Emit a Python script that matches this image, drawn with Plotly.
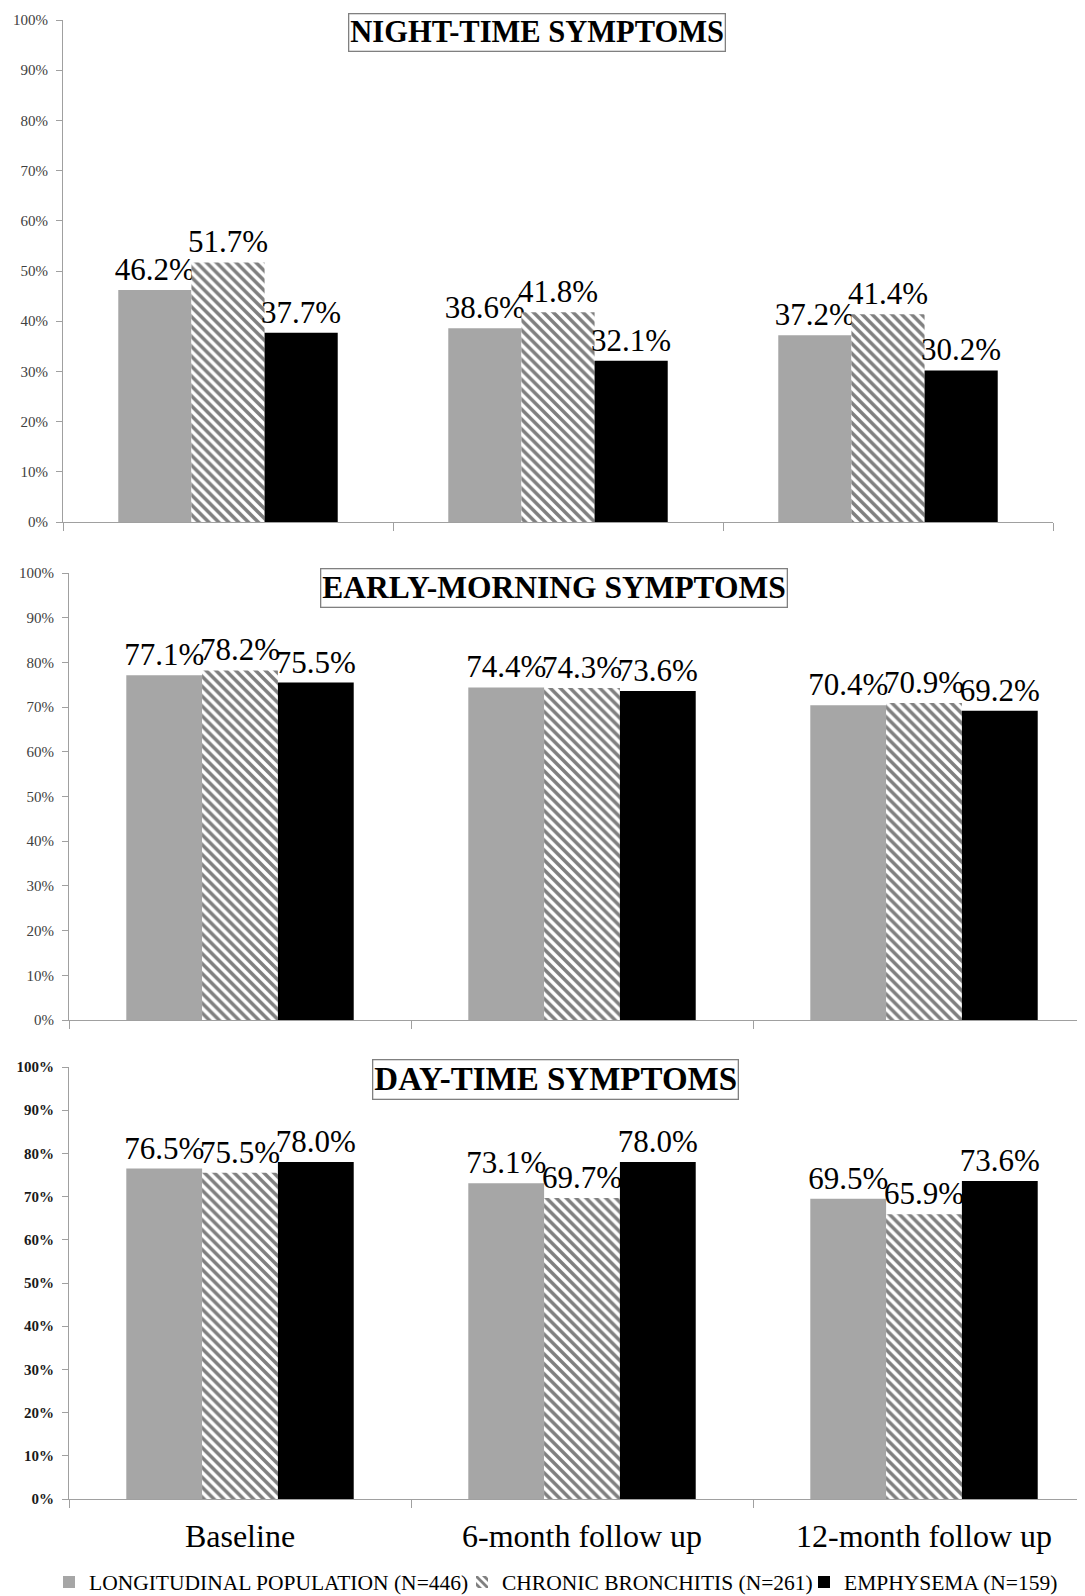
import plotly.graph_objects as go
from plotly.subplots import make_subplots

categories = ["Baseline", "6-month follow up", "12-month follow up"]
series_names = ["LONGITUDINAL POPULATION (N=446)", "CHRONIC BRONCHITIS (N=261)", "EMPHYSEMA (N=159)"]

night_long = [46.2, 38.6, 37.2]
night_cb = [51.7, 41.8, 41.4]
night_emph = [37.7, 32.1, 30.2]

morning_long = [77.1, 74.4, 70.4]
morning_cb = [78.2, 74.3, 70.9]
morning_emph = [75.5, 73.6, 69.2]

day_long = [76.5, 73.1, 69.5]
day_cb = [75.5, 69.7, 65.9]
day_emph = [78.0, 78.0, 73.6]

panel_titles = ["NIGHT-TIME SYMPTOMS", "EARLY-MORNING SYMPTOMS", "DAY-TIME SYMPTOMS"]
y_tick_vals = [0, 10, 20, 30, 40, 50, 60, 70, 80, 90, 100]
y_tick_text = ["0%", "10%", "20%", "30%", "40%", "50%", "60%", "70%", "80%", "90%", "100%"]

panels = [
    (night_long, night_cb, night_emph),
    (morning_long, morning_cb, morning_emph),
    (day_long, day_cb, day_emph),
]

W, H = 1085, 1596
SERIF = "Liberation Serif"

fig = make_subplots(rows=3, cols=1)

styles = [
    dict(color="#a6a6a6", pattern=None),
    dict(color="white", pattern=dict(shape="\\", fgcolor="black", bgcolor="white", size=7, solidity=0.5)),
    dict(color="black", pattern=None),
]
legend_ids = ["legend", "legend2", "legend3"]

for r, vals in enumerate(panels, start=1):
    for i, (v, st) in enumerate(zip(vals, styles)):
        marker = dict(color=st["color"], line=dict(width=0))
        if st["pattern"] is not None:
            marker["pattern"] = st["pattern"]
        fig.add_trace(
            go.Bar(
                x=categories, y=v, name=series_names[i],
                marker=marker,
                text=v, texttemplate="%{y:.1f}%", textposition="outside",
                textfont=dict(family=SERIF, size=31, color="black"),
                constraintext="none", cliponaxis=False,
                showlegend=(r == 1), legendgroup=str(i), legend=legend_ids[i],
            ),
            row=r, col=1,
        )

# pixel-based layout of the three panels (figure pixels)
ydoms = [
    (1 - 514 / H, 1 - 12 / H),
    (1 - 1012 / H, 1 - 565 / H),
    (1 - 1491 / H, 1 - 1059 / H),
]
x1_start, x1_cat = 55, 330.0
x23_start, x23_cat = 61, 342.0
xdoms = [
    (x1_start / W, (x1_start + 3 * x1_cat) / W),
    (x23_start / W, 1.0),
    (x23_start / W, 1.0),
]
xranges = [
    [-0.5, 2.5],
    [-0.5, -0.5 + (W - x23_start) / x23_cat],
    [-0.5, -0.5 + (W - x23_start) / x23_cat],
]

axis_gray = "#a0a0a0"
for r in range(1, 4):
    fig.update_xaxes(
        row=r, col=1, domain=list(xdoms[r - 1]), range=xranges[r - 1],
        showline=True, linecolor=axis_gray, linewidth=1.2,
        ticks="outside", tickson="boundaries", ticklen=8, tickcolor=axis_gray,
        showgrid=False, zeroline=False,
        showticklabels=(r == 3),
        tickfont=dict(family=SERIF, size=32, color="black"),
        ticklabelstandoff=8,
        fixedrange=True,
    )
    fig.update_yaxes(
        row=r, col=1, domain=list(ydoms[r - 1]), range=[0, 100],
        tickmode="array", tickvals=y_tick_vals, ticktext=y_tick_text,
        showline=True, linecolor=axis_gray, linewidth=1.2,
        ticks="outside", ticklen=6, tickcolor=axis_gray,
        showgrid=False, zeroline=False,
        tickfont=dict(family=SERIF, size=15, color="#1a1a1a" if r == 3 else "#404040",
                      weight="bold" if r == 3 else "normal"),
        ticklabelstandoff=5,
        fixedrange=True,
    )

title_centers = [(528.5, 24.5), (545.5, 580), (547.5, 1071.5)]
title_sizes = [30.5, 31.5, 33]
for t, (cx, cy), fs in zip(panel_titles, title_centers, title_sizes):
    fig.add_annotation(
        text="<b>" + t + "</b>", xref="paper", yref="paper",
        x=cx / W, y=1 - cy / H, xanchor="center", yanchor="middle",
        showarrow=False,
        font=dict(family=SERIF, size=fs, color="black"),
        bordercolor="#808080", borderwidth=1.3, borderpad=1, bgcolor="white",
    )

legend_x_px = [41, 454, 796]
legend_common = dict(
    orientation="h", xanchor="left", y=1 - 1574 / H, yanchor="middle",
    font=dict(family=SERIF, size=21.5, color="black"),
    bgcolor="rgba(0,0,0,0)",
)

fig.update_layout(
    width=W, height=H, autosize=False,
    margin=dict(l=0, r=0, t=0, b=0, autoexpand=False),
    paper_bgcolor="white", plot_bgcolor="white",
    barmode="group", bargap=0.335, bargroupgap=0,
    showlegend=True,
    legend=dict(x=legend_x_px[0] / W, **legend_common),
    legend2=dict(x=legend_x_px[1] / W, **legend_common),
    legend3=dict(x=legend_x_px[2] / W, **legend_common),
)

fig.write_html("out.html")
